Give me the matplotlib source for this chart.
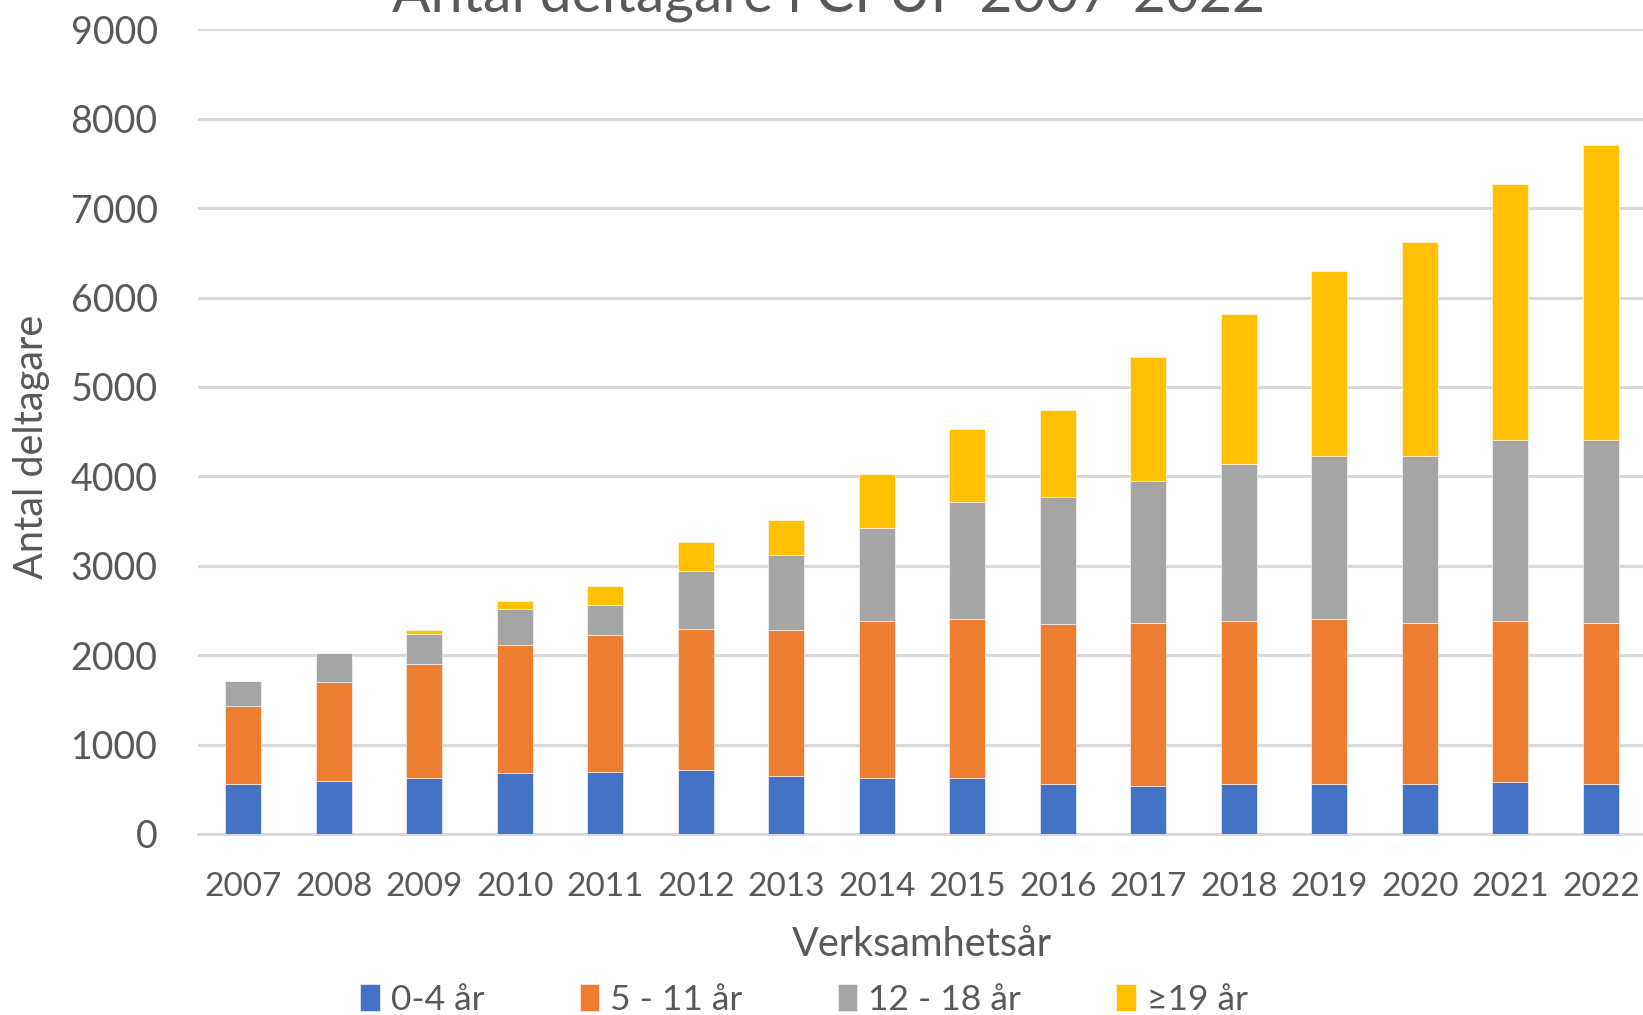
import matplotlib
matplotlib.use("Agg")
import matplotlib.pyplot as plt
import numpy as np

years = ["2007", "2008", "2009", "2010", "2011", "2012", "2013", "2014",
         "2015", "2016", "2017", "2018", "2019", "2020", "2021", "2022"]
age_0_4 = [562, 598, 621, 680, 691, 715, 645, 621, 621, 562, 539, 562, 562, 562, 586, 562]
age_5_11 = [868, 1101, 1277, 1429, 1536, 1582, 1640, 1758, 1781, 1782, 1816, 1817, 1840, 1793, 1793, 1793]
age_12_18 = [281, 328, 340, 411, 339, 644, 832, 1043, 1313, 1430, 1594, 1758, 1829, 1876, 2027, 2051]
age_19_plus = [0, 0, 47, 82, 211, 329, 399, 609, 820, 972, 1383, 1676, 2062, 2390, 2860, 3305]
series_labels = ["0-4 år", "5 - 11 år", "12 - 18 år", "≥19 år"]
colors = ["#4472C4", "#ED7D31", "#A5A5A5", "#FFC000"]
title = "Antal deltagare i CPUP 2007-2022"

plt.rcParams['font.family'] = ['Lato', 'DejaVu Sans']
txt = "#595959"

W, H = 1643, 1015
fig = plt.figure(figsize=(W / 100, H / 100), dpi=100)
ax = fig.add_axes([198 / W, 1 - 834 / H, (1646 - 198) / W, (834 - 29.3) / H])

x = np.arange(len(years))
bottom = np.zeros(len(years))
handles = []
for vals, lab, col in zip([age_0_4, age_5_11, age_12_18, age_19_plus], series_labels, colors):
    v = np.array(vals, dtype=float)
    b = ax.bar(x, v, 0.40, bottom=bottom, color=col, label=lab, zorder=3,
               edgecolor="white", linewidth=0.4)
    handles.append(b)
    bottom += v

ax.set_xlim(-0.5, 15.5)
ax.set_ylim(0, 9000)
ax.set_yticks(range(0, 9001, 1000))
ax.set_xticks(x)
ax.set_xticklabels(years)
ax.yaxis.grid(True, color="#D9D9D9", linewidth=2.2, zorder=0)
ax.set_axisbelow(True)
for s in ["top", "right", "left"]:
    ax.spines[s].set_visible(False)
ax.spines["bottom"].set_color("#D9D9D9")
ax.spines["bottom"].set_linewidth(2.2)
ax.tick_params(axis="both", length=0, colors=txt)
ax.tick_params(axis="y", pad=29, labelsize=27)
ax.tick_params(axis="x", pad=27, labelsize=24)

fig.text(829 / W, 1 - 11 / H, title, ha="center", va="baseline", fontsize=41, color=txt)
fig.text(32 / W, 1 - 447 / H, "Antal deltagare", rotation=90, ha="center", va="center",
         fontsize=28.5, color=txt)
fig.text(922 / W, 1 - 945 / H, "Verksamhetsår", ha="center", va="center", fontsize=28.5, color=txt)

fig.legend(handles=handles, labels=series_labels, loc="center",
           bbox_to_anchor=(804 / W, 1 - 1000 / H), ncol=4, frameon=False,
           fontsize=25.5, labelcolor=txt, handlelength=0.55, handleheight=0.8,
           handletextpad=0.3, columnspacing=2.7)

fig.savefig("out.png", dpi=100)
